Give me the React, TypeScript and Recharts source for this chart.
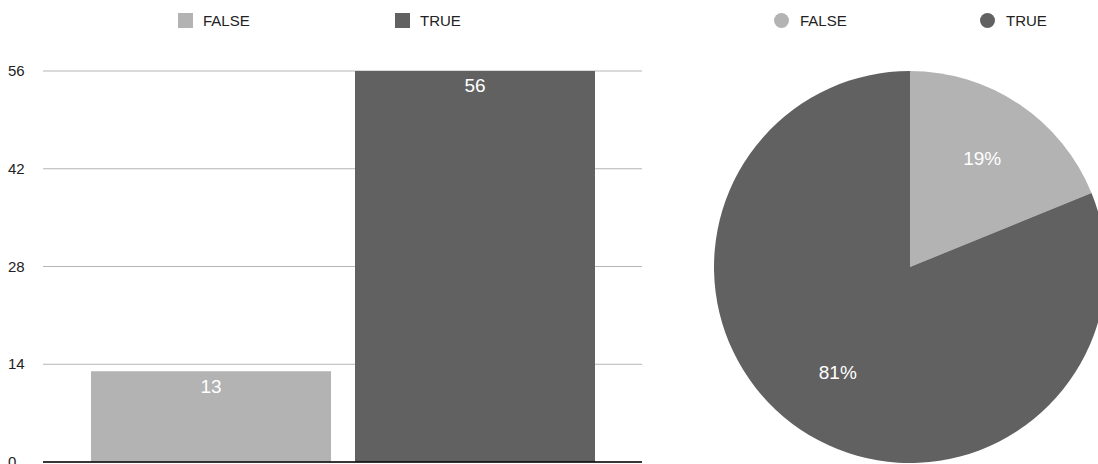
import React from 'react';
import { BarChart, Bar, XAxis, YAxis, CartesianGrid, LabelList, Legend, PieChart, Pie, Cell } from 'recharts';

const seriesNames = ['FALSE', 'TRUE'];
const seriesValues = [13, 56];
const seriesColors = ['#b3b3b3', '#616161'];
const yTicks = [0, 14, 28, 42, 56];
const pieLabels = ['19%', '81%'];

const barRow: Record<string, any> = { name: '' };
seriesNames.forEach((n, i) => { barRow[n] = seriesValues[i]; });
const barData = [barRow];
const pieData = seriesNames.map((n, i) => ({ name: n, value: seriesValues[i], label: pieLabels[i] }));

const FONT = '"Liberation Sans", Arial, Helvetica, sans-serif';

const makeLegend = (positions: number[], round: boolean) => (props: any) => {
  const payload = props.payload || [];
  return (
    <div style={{ position: 'relative', height: 40, fontFamily: FONT }}>
      {payload.map((p: any, i: number) => (
        <div key={i} style={{ position: 'absolute', left: positions[i], top: 13, display: 'flex', alignItems: 'center' }}>
          <span style={{ display: 'inline-block', width: 15, height: 15, background: p.color, borderRadius: round ? '50%' : 0 }} />
          <span style={{ marginLeft: round ? 11 : 10, fontSize: 15, color: '#222', lineHeight: '15px' }}>{p.value}</span>
        </div>
      ))}
    </div>
  );
};

const YTick = (props: any) => {
  const { y, payload } = props;
  return (
    <text x={8} y={y} dy={5} fontSize={15} fontFamily={FONT} fill="#222" textAnchor="start">{payload.value}</text>
  );
};

const RAD = Math.PI / 180;
const PieLabel = (props: any) => {
  const { cx, cy, midAngle, outerRadius, index } = props;
  const r = outerRadius * 0.66;
  const x = cx + r * Math.cos(-midAngle * RAD);
  const y = cy + r * Math.sin(-midAngle * RAD);
  return (
    <text x={x} y={y} dy={5} textAnchor="middle" fill="#fff" fontSize={19} fontFamily={FONT}>{pieData[index].label}</text>
  );
};

export default function App() {
  return (
    <div style={{ position: 'absolute', left: 0, top: 0, width: 1098, height: 464, background: '#fff', overflow: 'hidden' }}>
      <div style={{ position: 'absolute', left: 0, top: 0 }}>
        <BarChart width={642} height={464} data={barData} margin={{ top: 71, right: 0, left: 0, bottom: 1 }} barCategoryGap={48} barGap={24}>
          <CartesianGrid vertical={false} stroke="#b5b5b5" />
          <XAxis dataKey="name" tick={false} tickLine={false} height={1} axisLine={{ stroke: '#000', strokeWidth: 1.5 }} />
          <YAxis width={43} domain={[0, 56]} ticks={yTicks} axisLine={false} tickLine={false} tick={<YTick />} interval={0} />
          <Legend verticalAlign="middle" layout="horizontal" wrapperStyle={{ top: 0, left: 0, width: 642 }} content={makeLegend([178, 395], false)} />
          {seriesNames.map((n, i) => (
            <Bar key={n} dataKey={n} fill={seriesColors[i]} isAnimationActive={false}>
              <LabelList dataKey={n} position="insideTop" offset={8} fill="#fff" fontSize={19} fontFamily={FONT} />
            </Bar>
          ))}
        </BarChart>
      </div>
      <div style={{ position: 'absolute', left: 650, top: 0 }}>
        <PieChart width={448} height={464} margin={{ top: 0, right: 0, left: 0, bottom: 0 }}>
          <Legend verticalAlign="middle" layout="horizontal" wrapperStyle={{ top: 0, left: 0, width: 448 }} content={makeLegend([124, 330], true)} />
          <Pie data={pieData} dataKey="value" nameKey="name" cx={260} cy={267} outerRadius={196} startAngle={90} endAngle={-270} stroke="none" label={<PieLabel />} labelLine={false} isAnimationActive={false}>
            {pieData.map((d, i) => (
              <Cell key={d.name} fill={seriesColors[i]} />
            ))}
          </Pie>
        </PieChart>
      </div>
    </div>
  );
}
